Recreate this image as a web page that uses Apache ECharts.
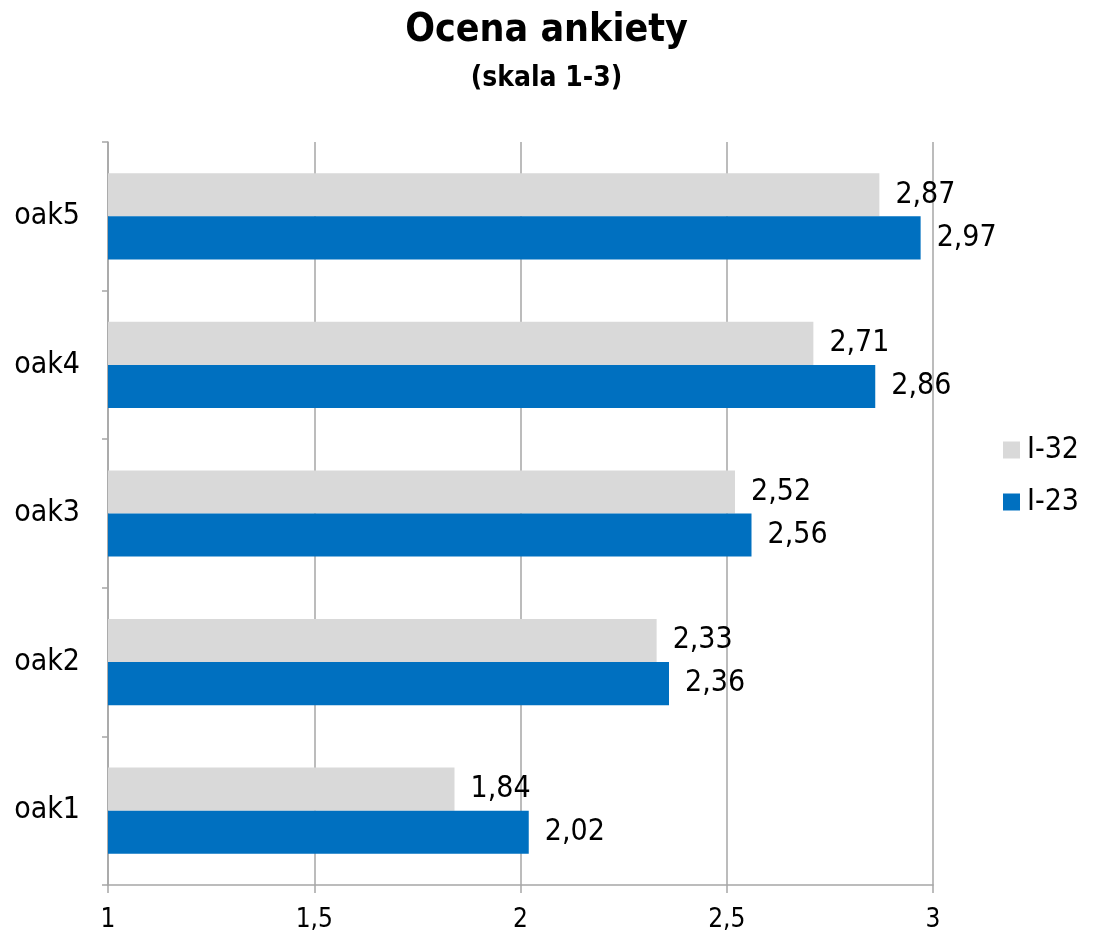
<!DOCTYPE html>
<html><head><meta charset="utf-8">
<script src="https://cdn.jsdelivr.net/npm/echarts@6/dist/echarts.min.js"></script>
<style>html,body{margin:0;padding:0;background:#fff}#c{width:1093px;height:933px}</style>
</head><body><div id="c"></div>
<script>
const categories = ['oak1','oak2','oak3','oak4','oak5'];
const seriesNames = ['I-32','I-23'];
const valuesI32 = [1.84, 2.33, 2.52, 2.71, 2.87];
const valuesI23 = [2.02, 2.36, 2.56, 2.86, 2.97];
const xTicks = [1, 1.5, 2, 2.5, 3];

const FONT = '"DejaVu Sans Condensed", "DejaVu Sans", sans-serif';
const fmt = v => String(v).replace('.', ',');
const chart = echarts.init(document.getElementById('c'));
const lbl = {show:true, position:'right', distance:16, color:'#000', fontSize:30, fontFamily:FONT, formatter:p=>fmt(p.value)};
chart.setOption({
  animation:false,
  title:[
    {text:'Ocena ankiety', left:'center', top:6, textStyle:{fontSize:39, fontWeight:'bold', color:'#000', fontFamily:FONT}},
    {text:'(skala 1-3)', left:'center', top:60, textStyle:{fontSize:28, fontWeight:'bold', color:'#000', fontFamily:FONT}}
  ],
  legend:{orient:'vertical', left:998, top:430, itemWidth:17, itemHeight:17, itemGap:22, icon:'rect',
    data:seriesNames, textStyle:{fontSize:30, color:'#000', fontFamily:FONT, padding:[0,0,0,2]}},
  grid:{left:108, right:160, top:142, bottom:48, containLabel:false},
  xAxis:{type:'value', min:1, max:3, interval:0.5,
    axisLine:{show:true, lineStyle:{color:'#a6a6a6', width:1.5}},
    axisTick:{show:true, length:8, lineStyle:{color:'#a6a6a6', width:1.5}},
    splitLine:{show:true, lineStyle:{color:'#a6a6a6', width:1.5}},
    axisLabel:{fontSize:26, color:'#000', fontFamily:FONT, margin:22, formatter:v=>fmt(v)}},
  yAxis:{type:'category', data:categories,
    axisLine:{show:true, lineStyle:{color:'#a6a6a6', width:1.5}},
    axisTick:{show:true, length:6, lineStyle:{color:'#a6a6a6', width:1.5}},
    axisLabel:{fontSize:30, color:'#000', fontFamily:FONT, margin:28}},
  series:[
    {name:seriesNames[0], type:'bar', data:valuesI32, itemStyle:{color:'#d9d9d9'}, barGap:'0%', barCategoryGap:'42%', label:lbl},
    {name:seriesNames[1], type:'bar', data:valuesI23, itemStyle:{color:'#0070c0'}, barGap:'0%', barCategoryGap:'42%', label:lbl}
  ]
});
</script></body></html>
